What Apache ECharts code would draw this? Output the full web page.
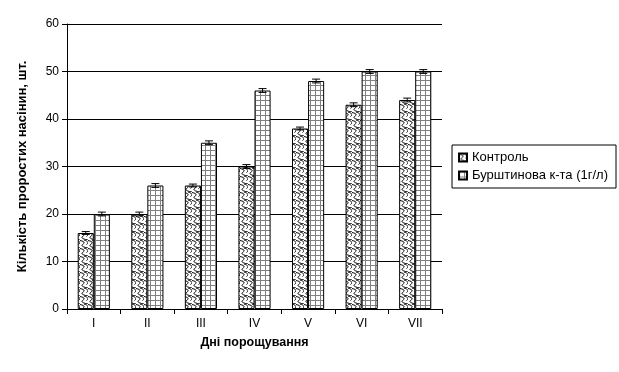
<!DOCTYPE html>
<html><head><meta charset="utf-8">
<script src="https://cdn.jsdelivr.net/npm/echarts@6/dist/echarts.min.js"></script>
<style>html,body{margin:0;padding:0;background:#fff}#c{width:619px;height:372px}</style>
</head><body><div id="c"></div>
<script>
const categories = ['I','II','III','IV','V','VI','VII'];
const controlValues = [16, 20, 26, 30, 38, 43, 44];
const amberValues = [20, 26, 35, 46, 48, 50, 50];
const controlErr = [0.3, 0.4, 0.3, 0.4, 0.3, 0.4, 0.4];
const amberErr = [0.4, 0.4, 0.4, 0.4, 0.4, 0.4, 0.4];
const seriesNames = ['Контроль', 'Бурштинова к-та (1г/л)'];

function gridPattern(){
  const s = 5;
  const c = document.createElement('canvas'); c.width = s; c.height = s;
  const g = c.getContext('2d');
  g.fillStyle = '#fff'; g.fillRect(0,0,s,s);
  g.fillStyle = '#808080'; g.fillRect(0,0,s,1); g.fillRect(0,0,1,s);
  return c;
}
function wavePattern(){
  const c = document.createElement('canvas'); c.width = 8; c.height = 8;
  const g = c.getContext('2d');
  g.fillStyle = '#fff'; g.fillRect(0,0,8,8);
  g.strokeStyle = '#000'; g.lineWidth = 1;
  g.beginPath();
  g.moveTo(0,0.5); g.bezierCurveTo(5,1.5, 5,3, 2.5,4.5); g.bezierCurveTo(0.5,6, 4,7.5, 8,8);
  g.moveTo(4,0); g.bezierCurveTo(8,1, 9,3, 6.5,4.5);
  g.stroke();
  return c;
}
const fontFam = '"Liberation Sans", Arial, sans-serif';
function errSeries(idx, vals, errs){
  return {
    type: 'custom', z: 10, silent: true,
    data: vals.map((v,i)=>[i, v, errs[i]]),
    renderItem: function(params, api){
      const i = api.value(0), v = api.value(1), e = api.value(2);
      const bw = api.size([1,0])[0];
      const barW = bw * 0.3;
      const cx = api.coord([i, v])[0] + (idx === 0 ? -barW/2 : barW/2);
      const top = api.coord([i, v + e])[1], bot = api.coord([i, v - e])[1];
      const hw = 4;
      const st = {stroke:'#000', lineWidth:1};
      return {type:'group', children:[
        {type:'line', shape:{x1:cx, y1:top, x2:cx, y2:bot}, style:st},
        {type:'line', shape:{x1:cx-hw, y1:top, x2:cx+hw, y2:top}, style:st},
        {type:'line', shape:{x1:cx-hw, y1:bot, x2:cx+hw, y2:bot}, style:st}
      ]};
    }
  };
}
const chart = echarts.init(document.getElementById('c'), null, {renderer:'canvas'});
chart.setOption({
  animation: false,
  backgroundColor: '#fff',
  textStyle: {fontFamily: fontFam},
  grid: {left: 67, right: 177, top: 24, bottom: 63},
  legend: {
    orient: 'vertical', right: 3, top: 145,
    data: seriesNames,
    itemWidth: 8, itemHeight: 8, itemGap: 5,
    icon: 'rect',
    borderColor: '#000', borderWidth: 1, padding: [6, 8, 6, 6],
    textStyle: {fontSize: 13, color: '#000', fontFamily: fontFam}
  },
  xAxis: {
    type: 'category', data: categories,
    name: 'Дні порощування', nameLocation: 'middle', nameGap: 27,
    nameTextStyle: {fontSize: 12.5, fontWeight: 'bold', color: '#000'},
    axisLine: {lineStyle: {color: '#000'}},
    axisTick: {show: true, length: 5, lineStyle: {color: '#000'}},
    axisLabel: {color: '#000', fontSize: 12, margin: 9}
  },
  yAxis: {
    type: 'value', min: 0, max: 60, interval: 10,
    name: 'Кількість проростих насінин, шт.', nameLocation: 'middle', nameGap: 38,
    nameTextStyle: {fontSize: 13, fontWeight: 'bold', color: '#000'},
    axisLine: {show: true, lineStyle: {color: '#000'}},
    axisTick: {show: true, length: 5, lineStyle: {color: '#000'}},
    axisLabel: {color: '#000', fontSize: 12, margin: 8},
    splitLine: {lineStyle: {color: '#000', width: 1}}
  },
  series: [
    {name: seriesNames[0], type: 'bar', data: controlValues, barGap: '0%', barCategoryGap: '40%',
     itemStyle: {color: {image: wavePattern(), repeat: 'repeat'}, borderColor: '#000', borderWidth: 1}},
    {name: seriesNames[1], type: 'bar', data: amberValues,
     itemStyle: {color: {image: gridPattern(), repeat: 'repeat'}, borderColor: '#000', borderWidth: 1}},
    errSeries(0, controlValues, controlErr),
    errSeries(1, amberValues, amberErr)
  ]
});
</script></body></html>
